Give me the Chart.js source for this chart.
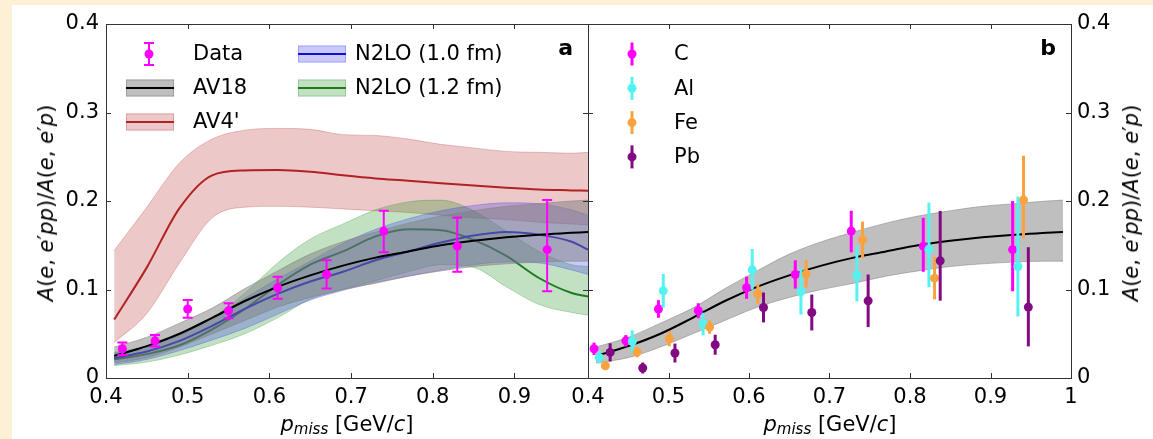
<!DOCTYPE html>
<html>
<head>
<meta charset="utf-8">
<script src="https://cdn.jsdelivr.net/npm/chart.js@4.4.1/dist/chart.umd.min.js"></script>
<style>
  body { margin: 0; background: #fdf0d5; }
  #wrap { position: relative; width: 1153px; height: 439px; overflow: hidden; }
  #sheet { position: absolute; left: 12px; top: 5px; right: 0; bottom: 0; background: #fff; }
  canvas { position: absolute; top: 0; }
  #left { left: 0; }
  #right { left: 540px; }
  .xt, .yt { position: absolute; font: 21px "DejaVu Sans"; color: #000; white-space: nowrap; line-height: 24px; }
  .xt { top: 412px; transform: translateX(-50%); }
  .xt sub { font-size: 15px; vertical-align: -3px; }
  .yt { transform: translate(-50%, -50%) rotate(-90deg); top: 203px; }
</style>
</head>
<body>
<div id="wrap">
  <div id="sheet"></div>
  <canvas id="left" width="620" height="439"></canvas>
  <canvas id="right" width="613" height="439"></canvas>
  <div class="xt" style="left:347px"><i>p</i><sub><i>miss</i></sub> [GeV/<i>c</i>]</div>
  <div class="xt" style="left:830px"><i>p</i><sub><i>miss</i></sub> [GeV/<i>c</i>]</div>
  <div class="yt" style="left:46px"><i>A</i>(<i>e</i>, <i>e</i>′<i>pp</i>)/<i>A</i>(<i>e</i>, <i>e</i>′<i>p</i>)</div>
  <div class="yt" style="left:1131px"><i>A</i>(<i>e</i>, <i>e</i>′<i>pp</i>)/<i>A</i>(<i>e</i>, <i>e</i>′<i>p</i>)</div>
</div>
<script>
// ticks
const yTicks = [0, 0.1, 0.2, 0.3, 0.4];
const xTicksLeft = [0.4, 0.5, 0.6, 0.7, 0.8, 0.9];
const xTicksRight = [0.4, 0.5, 0.6, 0.7, 0.8, 0.9, 1];

// theory curves, all on the same p_miss grid
const pGrid  = [0.41, 0.45, 0.49, 0.53, 0.57, 0.61, 0.65, 0.69, 0.73, 0.77, 0.81, 0.85, 0.89, 0.93, 0.97, 0.99];
const av18   = [0.025, 0.036, 0.050, 0.068, 0.087, 0.103, 0.116, 0.127, 0.136, 0.143, 0.150, 0.155, 0.159, 0.162, 0.164, 0.165];
const av18Hi = [0.035, 0.046, 0.062, 0.079, 0.101, 0.121, 0.140, 0.154, 0.165, 0.175, 0.183, 0.189, 0.194, 0.197, 0.200, 0.201];
const av18Lo = [0.017, 0.023, 0.035, 0.050, 0.065, 0.080, 0.091, 0.100, 0.107, 0.115, 0.121, 0.126, 0.129, 0.131, 0.132, 0.132];
const av4    = [0.066, 0.125, 0.192, 0.229, 0.2345, 0.235, 0.233, 0.229, 0.2255, 0.223, 0.220, 0.2175, 0.215, 0.213, 0.212, 0.2115];
const av4Hi  = [0.144, 0.193, 0.243, 0.270, 0.280, 0.282, 0.281, 0.275, 0.274, 0.270, 0.264, 0.260, 0.256, 0.255, 0.254, 0.255];
const av4Lo  = [0.040, 0.073, 0.130, 0.181, 0.193, 0.194, 0.193, 0.191, 0.189, 0.187, 0.184, 0.181, 0.179, 0.176, 0.174, 0.173];
const n2lo10   = [0.0225, 0.030, 0.042, 0.059, 0.078, 0.095, 0.109, 0.120, 0.133, 0.143, 0.153, 0.161, 0.165, 0.162, 0.154, 0.145];
const n2lo10Hi = [0.028, 0.036, 0.049, 0.068, 0.090, 0.112, 0.132, 0.152, 0.168, 0.180, 0.189, 0.195, 0.198, 0.197, 0.190, 0.184];
const n2lo10Lo = [0.015, 0.021, 0.031, 0.043, 0.056, 0.072, 0.088, 0.099, 0.108, 0.115, 0.122, 0.128, 0.131, 0.130, 0.122, 0.117];
const n2lo12   = [0.021, 0.027, 0.037, 0.055, 0.078, 0.105, 0.128, 0.143, 0.160, 0.168, 0.167, 0.156, 0.138, 0.113, 0.096, 0.092];
const n2lo12Hi = [0.029, 0.036, 0.048, 0.068, 0.096, 0.130, 0.157, 0.174, 0.190, 0.199, 0.201, 0.189, 0.166, 0.143, 0.128, 0.126];
const n2lo12Lo = [0.014, 0.018, 0.026, 0.037, 0.050, 0.068, 0.089, 0.100, 0.110, 0.120, 0.128, 0.125, 0.103, 0.083, 0.074, 0.071];

// panel a data
const dataX     = [0.42, 0.46, 0.50, 0.55, 0.61, 0.67, 0.74, 0.83, 0.94];
const dataY     = [0.033, 0.042, 0.078, 0.076, 0.102, 0.117, 0.166, 0.149, 0.145];
const dataMinus = [0.007, 0.0065, 0.010, 0.0085, 0.0125, 0.016, 0.024, 0.029, 0.047];
const dataPlus  = [0.007, 0.0065, 0.010, 0.0085, 0.0125, 0.016, 0.023, 0.032, 0.056];

// panel b data per nucleus
const cX     = [0.4075, 0.447, 0.4875, 0.537, 0.597, 0.6575, 0.727, 0.8165, 0.9275];
const cY     = [0.033, 0.042, 0.078, 0.076, 0.102, 0.117, 0.166, 0.149, 0.145];
const cMinus = [0.007, 0.0065, 0.010, 0.0085, 0.0125, 0.016, 0.024, 0.029, 0.047];
const cPlus  = [0.007, 0.0065, 0.010, 0.0085, 0.0125, 0.016, 0.023, 0.032, 0.055];
const alX     = [0.414, 0.455, 0.4935, 0.543, 0.604, 0.6645, 0.734, 0.8235, 0.934];
const alY     = [0.0233, 0.0413, 0.0985, 0.061, 0.1222, 0.0977, 0.1155, 0.1456, 0.126];
const alMinus = [0.007, 0.0125, 0.019, 0.0128, 0.0225, 0.026, 0.029, 0.043, 0.0565];
const alPlus  = [0.007, 0.0125, 0.019, 0.0128, 0.0235, 0.026, 0.033, 0.0525, 0.079];
const feX     = [0.4215, 0.461, 0.501, 0.551, 0.611, 0.671, 0.741, 0.8305, 0.941];
const feY     = [0.0139, 0.0293, 0.0444, 0.0575, 0.0951, 0.1177, 0.156, 0.1128, 0.2012];
const feMinus = [0.004, 0.006, 0.0085, 0.0075, 0.0113, 0.0154, 0.0207, 0.024, 0.043];
const fePlus  = [0.004, 0.006, 0.0085, 0.0075, 0.0113, 0.0154, 0.0207, 0.024, 0.050];
const pbX     = [0.4275, 0.468, 0.508, 0.558, 0.618, 0.678, 0.748, 0.8375, 0.947];
const pbY     = [0.0289, 0.0113, 0.0282, 0.0376, 0.0797, 0.074, 0.0872, 0.1324, 0.0801];
const pbMinus = [0.0103, 0.0062, 0.0107, 0.0113, 0.0169, 0.0203, 0.0297, 0.045, 0.0444];
const pbPlus  = [0.0103, 0.0062, 0.0107, 0.0113, 0.0169, 0.0203, 0.0297, 0.0564, 0.0677];

const FONT = { family: 'DejaVu Sans', size: 21 };

function pts(xs, ys) {
  return xs.map((x, i) => ({ x: x, y: ys[i] }));
}

function curve(label, ys, color, order) {
  return { type: 'line', label: label, data: pts(pGrid, ys), borderColor: color, borderWidth: 2,
           pointRadius: 0, fill: false, order: order, cubicInterpolationMode: 'monotone' };
}

function band(hi, lo, color, order) {
  return [
    { type: 'line', data: pts(pGrid, hi), borderColor: color, borderWidth: 1, backgroundColor: color,
      pointRadius: 0, fill: '+1', order: order, cubicInterpolationMode: 'monotone' },
    { type: 'line', data: pts(pGrid, lo), borderColor: color, borderWidth: 1,
      pointRadius: 0, fill: false, order: order, cubicInterpolationMode: 'monotone' }
  ];
}

function points(label, xs, ys, minus, plus, color, opts) {
  return Object.assign({ type: 'scatter', label: label, data: pts(xs, ys), errMinus: minus, errPlus: plus,
    backgroundColor: color, borderColor: color, pointRadius: 4.5, pointBorderWidth: 0, order: 0 }, opts);
}

// error bars, drawn with the chart's own scales
const errorBars = {
  id: 'errorBars',
  afterDatasetDraw(chart, args) {
    const ds = chart.data.datasets[args.index];
    if (!ds.errMinus) return;
    const { ctx, scales: { x, y } } = chart;
    ctx.save();
    ctx.strokeStyle = ds.borderColor;
    ctx.lineWidth = ds.errWidth;
    ds.data.forEach((p, i) => {
      const px = x.getPixelForValue(p.x);
      const top = y.getPixelForValue(p.y + ds.errPlus[i]);
      const bot = y.getPixelForValue(p.y - ds.errMinus[i]);
      ctx.beginPath();
      ctx.moveTo(px, top);
      ctx.lineTo(px, bot);
      if (ds.cap) {
        ctx.moveTo(px - ds.cap, top); ctx.lineTo(px + ds.cap, top);
        ctx.moveTo(px - ds.cap, bot); ctx.lineTo(px + ds.cap, bot);
      }
      ctx.stroke();
    });
    ctx.restore();
  }
};

// box around the plot with inward ticks on all four sides
const frame = {
  id: 'frame',
  afterDatasetsDraw(chart) {
    const { ctx, chartArea: a, scales: { x, y } } = chart;
    ctx.save();
    ctx.strokeStyle = '#333';
    ctx.lineWidth = 1;
    ctx.strokeRect(Math.round(a.left) + 0.5, Math.round(a.top) + 0.5,
                   Math.round(a.right - a.left), Math.round(a.bottom - a.top));
    ctx.beginPath();
    x.ticks.forEach(t => {
      const px = Math.round(x.getPixelForValue(t.value)) + 0.5;
      ctx.moveTo(px, a.bottom); ctx.lineTo(px, a.bottom - 5);
      ctx.moveTo(px, a.top); ctx.lineTo(px, a.top + 5);
    });
    y.ticks.forEach(t => {
      const py = Math.round(y.getPixelForValue(t.value)) + 0.5;
      ctx.moveTo(a.left, py); ctx.lineTo(a.left + 5, py);
      ctx.moveTo(a.right, py); ctx.lineTo(a.right - 5, py);
    });
    ctx.stroke();
    ctx.restore();
  }
};

function panelLabel(text) {
  return {
    id: 'panelLabel',
    afterDraw(chart) {
      const { ctx, chartArea: a } = chart;
      ctx.save();
      ctx.font = 'bold 22px "DejaVu Sans"';
      ctx.fillStyle = '#000';
      ctx.textAlign = 'right';
      ctx.textBaseline = 'alphabetic';
      ctx.fillText(text, a.right - 15, a.top + 31);
      ctx.restore();
    }
  };
}

const legendA = {
  id: 'legendA',
  afterDraw(chart) {
    const { ctx, chartArea: a } = chart;
    const ds = chart.data.datasets;
    const find = l => ds.find(d => d.label === l);
    ctx.save();
    ctx.font = '21px "DejaVu Sans"';
    ctx.textBaseline = 'middle';
    ctx.fillStyle = '#000';
    // Data entry
    const d = find('Data');
    const dx = a.left + 43, dy = a.top + 30;
    ctx.strokeStyle = d.borderColor; ctx.lineWidth = 2;
    ctx.beginPath();
    ctx.moveTo(dx, dy - 11); ctx.lineTo(dx, dy + 11);
    ctx.moveTo(dx - 5, dy - 11); ctx.lineTo(dx + 5, dy - 11);
    ctx.moveTo(dx - 5, dy + 11); ctx.lineTo(dx + 5, dy + 11);
    ctx.stroke();
    ctx.fillStyle = d.borderColor;
    ctx.beginPath(); ctx.arc(dx, dy, 4.5, 0, Math.PI * 2); ctx.fill();
    ctx.fillStyle = '#000';
    ctx.fillText('Data', a.left + 87, dy + 1);
    // band entries
    const items = [
      ['AV18', 0, 1], ["AV4'", 0, 2], ['N2LO (1.0 fm)', 1, 0], ['N2LO (1.2 fm)', 1, 1]
    ];
    items.forEach(([label, col, row]) => {
      const line = find(label);
      const px = a.left + (col ? 192 : 20);
      const py = a.top + 30 + row * 34;
      ctx.fillStyle = line.bandColor;
      ctx.fillRect(px, py - 8.5, 48, 17);
      ctx.strokeStyle = line.bandColor; ctx.lineWidth = 1;
      ctx.strokeRect(px + 0.5, py - 8, 47, 16);
      ctx.strokeStyle = line.borderColor; ctx.lineWidth = 2;
      ctx.beginPath(); ctx.moveTo(px, py); ctx.lineTo(px + 48, py); ctx.stroke();
      ctx.fillStyle = '#000';
      ctx.fillText(label, a.left + (col ? 249 : 87), py + 1);
    });
    ctx.restore();
  }
};

const legendB = {
  id: 'legendB',
  afterDraw(chart) {
    const { ctx, chartArea: a } = chart;
    ctx.save();
    ctx.font = '21px "DejaVu Sans"';
    ctx.textBaseline = 'middle';
    chart.data.datasets.filter(d => d.errMinus).forEach((d, i) => {
      const mx = a.left + 44, my = a.top + 30 + i * 34.3;
      ctx.strokeStyle = d.borderColor; ctx.lineWidth = 3;
      ctx.beginPath(); ctx.moveTo(mx, my - 11.5); ctx.lineTo(mx, my + 11.5); ctx.stroke();
      ctx.fillStyle = d.borderColor;
      ctx.beginPath(); ctx.arc(mx, my, 4.5, 0, Math.PI * 2); ctx.fill();
      ctx.fillStyle = '#000';
      ctx.fillText(d.label, a.left + 86, my + 1);
    });
    ctx.restore();
  }
};

function axes(xMin, xMax, xTicks, yPos, yWidth, yPad) {
  return {
    x: {
      type: 'linear', position: 'bottom', min: xMin, max: xMax,
      grid: { display: false, drawTicks: false }, border: { display: false },
      afterBuildTicks: s => { s.ticks = xTicks.map(v => ({ value: v })); },
      afterFit: s => { s.height = 61; s.paddingLeft = 0; s.paddingRight = 0; },
      ticks: { font: FONT, color: '#000', padding: 7, maxRotation: 0, autoSkip: false, callback: v => String(v) }
    },
    y: {
      type: 'linear', position: yPos, min: 0, max: 0.4,
      grid: { display: false, drawTicks: false }, border: { display: false },
      afterBuildTicks: s => { s.ticks = yTicks.map(v => ({ value: v })); },
      afterFit: s => { s.width = yWidth; s.paddingTop = 0; s.paddingBottom = 0; },
      ticks: { font: FONT, color: '#000', padding: yPad, autoSkip: false, callback: v => String(v) }
    }
  };
}

const common = {
  responsive: false, animation: false, devicePixelRatio: 1,
  plugins: { legend: { display: false }, tooltip: { enabled: false } }
};

const GRAY = 'rgba(128,128,128,0.5)';
const RED = 'rgba(178,34,34,0.25)';
const BLUE = 'rgba(30,30,235,0.24)';
const GREEN = 'rgba(0,128,0,0.24)';

new Chart(document.getElementById('left'), {
  type: 'scatter',
  data: {
    datasets: [
      points('Data', dataX, dataY, dataMinus, dataPlus, '#ff00ff', { errWidth: 2, cap: 5, pointRadius: 4.5 }),
      Object.assign(curve('AV18', av18, '#000000', 1), { bandColor: GRAY }),
      ...band(av18Hi, av18Lo, GRAY, 2),
      Object.assign(curve('N2LO (1.0 fm)', n2lo10, '#1010d0', 3), { bandColor: BLUE }),
      ...band(n2lo10Hi, n2lo10Lo, BLUE, 4),
      Object.assign(curve('N2LO (1.2 fm)', n2lo12, '#1e7a1e', 5), { bandColor: GREEN }),
      ...band(n2lo12Hi, n2lo12Lo, GREEN, 6),
      Object.assign(curve("AV4'", av4, '#b22222', 7), { bandColor: RED }),
      ...band(av4Hi, av4Lo, RED, 8)
    ]
  },
  options: Object.assign({}, common, {
    layout: { padding: { left: 0, right: 32, top: 24, bottom: 0 } },
    scales: axes(0.4, 0.99, xTicksLeft, 'left', 106, 7)
  }),
  plugins: [errorBars, frame, panelLabel('a'), legendA]
});

new Chart(document.getElementById('right'), {
  type: 'scatter',
  data: {
    datasets: [
      points('C', cX, cY, cMinus, cPlus, '#ff00ff', { errWidth: 3, order: 3 }),
      points('Al', alX, alY, alMinus, alPlus, '#55f2f2', { errWidth: 3, order: 2 }),
      points('Fe', feX, feY, feMinus, fePlus, '#f8a240', { errWidth: 3, order: 1 }),
      points('Pb', pbX, pbY, pbMinus, pbPlus, '#820a82', { errWidth: 3, order: 0 }),
      curve('AV18', av18, '#000000', 4),
      ...band(av18Hi, av18Lo, GRAY, 5)
    ]
  },
  options: Object.assign({}, common, {
    layout: { padding: { left: 48, right: 0, top: 24, bottom: 0 } },
    scales: axes(0.4, 1, xTicksRight, 'right', 82, 6)
  }),
  plugins: [errorBars, frame, panelLabel('b'), legendB]
});
</script>
</body>
</html>
